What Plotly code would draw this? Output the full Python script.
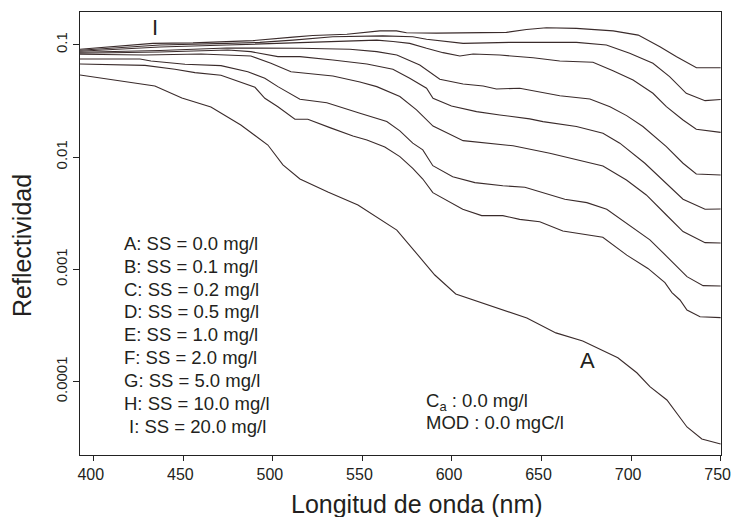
import plotly.graph_objects as go

# ---------------- data ----------------
WL_A = [392.3, 434.1, 449.2, 465.4, 482.1, 497.2, 505.6, 515.1, 530.7, 547.5, 569.2, 590.4, 602.1,
        641.8, 658.0, 673.0, 692.6, 703.2, 710.5, 720.0, 731.2, 739.5, 750.0]
R_A = [0.0538, 0.0430, 0.0336, 0.0279, 0.0193, 0.0128, 0.00851, 0.00638, 0.00489, 0.00374, 0.00224,
       0.000891, 0.000604, 0.000369, 0.000272, 0.000230, 0.000163, 0.000120, 0.0000902, 0.0000687,
       0.0000395, 0.0000309, 0.0000279]

WL_B = [392.3, 418.5, 428.6, 445.3, 456.5, 471.0, 486.0, 490.0, 495.5, 502.8, 512.3, 519.5, 532.2,
        544.7, 552.5, 562.5, 570.9, 578.1, 583.7, 589.3, 606.0, 616.6, 628.4, 637.8, 649.0, 661.9,
        684.2, 697.6, 709.4, 718.9, 722.8, 727.3, 731.2, 738.5, 750.0]
R_B = [0.0675, 0.0661, 0.0655, 0.0605, 0.0565, 0.0535, 0.0438, 0.0418, 0.0334, 0.0281, 0.0217, 0.0217,
       0.0182, 0.0154, 0.0142, 0.0123, 0.0101, 0.00795, 0.00638, 0.00482, 0.00343, 0.00301, 0.00301,
       0.00279, 0.00266, 0.00220, 0.00193, 0.00134, 0.00102, 0.000762, 0.000621, 0.000534, 0.000435,
       0.000379, 0.000372]

WL_C = [392.3, 425.8, 431.9, 450.9, 471.0, 486.0, 495.5, 502.8, 515.1, 530.1, 548.6, 563.6, 570.9,
        578.1, 583.7, 589.3, 600.4, 612.8, 628.4, 640.7, 663.0, 675.3, 686.4, 697.6, 710.5, 720.0,
        731.2, 740.2, 750.0]
R_C = [0.0748, 0.0748, 0.0718, 0.0670, 0.0652, 0.0576, 0.0503, 0.0424, 0.0327, 0.0305, 0.0246, 0.0207,
       0.0171, 0.0133, 0.0116, 0.00838, 0.00669, 0.00592, 0.00556, 0.00538, 0.00421, 0.00393, 0.00343,
       0.00257, 0.00183, 0.00130, 0.000861, 0.000716, 0.000711]

WL_D = [392.3, 428.6, 459.9, 487.7, 498.9, 510.1, 533.5, 548.6, 558.0, 570.9, 580.2, 589.4, 606.2,
        634.1, 654.6, 684.3, 697.4, 708.5, 719.7, 729.0, 741.3, 750.0]
R_D = [0.0823, 0.0811, 0.0828, 0.0795, 0.0684, 0.0576, 0.0527, 0.0466, 0.0424, 0.0346, 0.0263, 0.0189,
       0.0140, 0.0126, 0.0108, 0.00834, 0.00625, 0.00460, 0.00305, 0.00217, 0.00173, 0.00172]

WL_E = [392.3, 436.9, 474.9, 487.7, 502.8, 515.1, 533.5, 552.5, 567.0, 576.4, 585.8, 589.4, 599.7,
        613.7, 626.7, 643.4, 650.8, 669.5, 684.3, 693.7, 707.7, 719.7, 729.0, 741.3, 750.0]
R_E = [0.0840, 0.0863, 0.0899, 0.0869, 0.0784, 0.0784, 0.0732, 0.0675, 0.0605, 0.0503, 0.0410, 0.0334,
       0.0285, 0.0254, 0.0237, 0.0219, 0.0207, 0.0187, 0.0163, 0.0133, 0.00881, 0.00585, 0.00421,
       0.00343, 0.00345]

WL_F = [392.3, 436.9, 474.3, 515.1, 543.0, 558.0, 569.2, 582.0, 593.2, 606.2, 617.4, 624.8, 637.8,
        660.2, 677.0, 688.2, 697.5, 706.6, 719.7, 729.0, 736.4, 750.0]
R_F = [0.0857, 0.0890, 0.0937, 0.0931, 0.0912, 0.0869, 0.0811, 0.0661, 0.0493, 0.0448, 0.0430, 0.0404,
       0.0410, 0.0352, 0.0329, 0.0281, 0.0234, 0.0187, 0.0124, 0.00881, 0.00707, 0.00693]

WL_G = [392.3, 436.9, 474.3, 511.2, 537.4, 558.0, 567.1, 576.4, 585.8, 595.0, 604.4, 611.8, 626.7,
        645.3, 660.2, 678.7, 689.9, 701.1, 712.2, 719.7, 729.0, 736.4, 750.0]
R_G = [0.0875, 0.0955, 0.0995, 0.104, 0.108, 0.110, 0.107, 0.103, 0.0931, 0.0851, 0.0795, 0.0828,
       0.0811, 0.0767, 0.0718, 0.0699, 0.0588, 0.0486, 0.0370, 0.0281, 0.0214, 0.0177, 0.0166]

WL_H = [392.3, 436.9, 474.3, 492.7, 511.2, 533.5, 561.4, 578.1, 585.8, 606.2, 632.2, 669.5, 686.2,
        699.2, 712.2, 721.5, 730.8, 741.3, 750.0]
R_H = [0.0893, 0.0995, 0.103, 0.105, 0.110, 0.118, 0.120, 0.118, 0.112, 0.103, 0.105, 0.105, 0.0995,
       0.0840, 0.0684, 0.0520, 0.0370, 0.0318, 0.0326]

WL_I = [392.3, 433.0, 455.4, 489.0, 511.2, 522.3, 541.3, 554.1, 559.7, 569.0, 574.6, 591.3, 617.2,
        630.4, 641.6, 652.7, 669.5, 690.0, 704.0, 716.1, 725.4, 736.5, 750.0]
R_I = [0.0912, 0.103, 0.104, 0.109, 0.117, 0.121, 0.124, 0.129, 0.133, 0.133, 0.128, 0.127, 0.129,
       0.129, 0.137, 0.142, 0.140, 0.133, 0.122, 0.0962, 0.0784, 0.0625, 0.0625]

SERIES_NAMES = ["A", "B", "C", "D", "E", "F", "G", "H", "I"]
SS_VALUES = ["0.0", "0.1", "0.2", "0.5", "1.0", "2.0", "5.0", "10.0", "20.0"]

X_TICKS = [400, 450, 500, 550, 600, 650, 700, 750]
Y_TICKS = [0.0001, 0.001, 0.01, 0.1]
Y_TICK_TEXT = ["0.0001", "0.001", "0.01", "0.1"]

# ---------------- figure ----------------
FONT = "Arial, 'Liberation Sans', sans-serif"
LINE_COLOR = "#3a2b2b"
TEXT_COLOR = "#231f20"

wls = [WL_A, WL_B, WL_C, WL_D, WL_E, WL_F, WL_G, WL_H, WL_I]
rs = [R_A, R_B, R_C, R_D, R_E, R_F, R_G, R_H, R_I]

fig = go.Figure()
for name, wl, r in zip(SERIES_NAMES, wls, rs):
    fig.add_trace(go.Scatter(x=wl, y=r, mode="lines", name=name,
                             line=dict(color=LINE_COLOR, width=1.1),
                             showlegend=False, hoverinfo="x+y+name"))

annotations = []
# legend-like text block
y0 = 0.478
step = 0.0517
for i, (n, ss) in enumerate(zip(SERIES_NAMES, SS_VALUES)):
    xpos = 0.0651 if n != "I" else 0.0729
    annotations.append(dict(xref="paper", yref="paper", x=xpos, y=y0 - i * step,
                            xanchor="left", yanchor="middle", showarrow=False,
                            text=f"{n}: SS = {ss} mg/l",
                            font=dict(family=FONT, size=18.5, color=TEXT_COLOR)))

annotations += [
    dict(xref="paper", yref="paper", x=0.5367, y=0.1203, xanchor="left", yanchor="middle",
         showarrow=False, text="C<sub>a</sub> : 0.0 mg/l",
         font=dict(family=FONT, size=18.5, color=TEXT_COLOR)),
    dict(xref="paper", yref="paper", x=0.5367, y=0.0738, xanchor="left", yanchor="middle",
         showarrow=False, text="MOD : 0.0 mgC/l",
         font=dict(family=FONT, size=18.5, color=TEXT_COLOR)),
    dict(xref="paper", yref="paper", x=0.1165, y=0.9639, xanchor="center", yanchor="middle",
         showarrow=False, text="I", font=dict(family=FONT, size=22, color=TEXT_COLOR)),
    dict(xref="paper", yref="paper", x=0.7914, y=0.2144, xanchor="center", yanchor="middle",
         showarrow=False, text="A", font=dict(family=FONT, size=22, color=TEXT_COLOR)),
    dict(xref="paper", yref="paper", x=0.5265, y=-0.110, xanchor="center", yanchor="middle",
         showarrow=False, text="Longitud de onda (nm)",
         font=dict(family=FONT, size=25, color=TEXT_COLOR)),
    dict(xref="paper", yref="paper", x=-0.0905, y=0.474, xanchor="center", yanchor="middle",
         showarrow=False, text="Reflectividad", textangle=-90,
         font=dict(family=FONT, size=25, color=TEXT_COLOR)),
]

fig.update_layout(
    width=732, height=517,
    margin=dict(l=80, r=11, t=12, b=62, autoexpand=False),
    paper_bgcolor="white", plot_bgcolor="white",
    font=dict(family=FONT, color=TEXT_COLOR),
    annotations=annotations,
    showlegend=False,
)

fig.update_xaxes(
    range=[392.3, 750.2], tickvals=X_TICKS, ticks="outside", ticklen=5, tickwidth=1,
    tickcolor="#222", showline=True, linecolor="#222", linewidth=1, mirror=True,
    showgrid=False, zeroline=False, ticklabeloverflow="allow", automargin=False,
    ticklabelshift=-3,
    tickfont=dict(family=FONT, size=16, color=TEXT_COLOR),
)
fig.update_yaxes(
    type="log", range=[-4.653, -0.708], tickvals=Y_TICKS, ticktext=Y_TICK_TEXT,
    tickangle=-90, ticks="outside", ticklen=6, tickwidth=1, tickcolor="#222",
    showline=True, linecolor="#222", linewidth=1, mirror=True, automargin=False,
    showgrid=False, zeroline=False, tickfont=dict(family=FONT, size=15, color=TEXT_COLOR),
)

fig.write_html(
    "out.html",
    config={"displayModeBar": False},
    post_script="document.body.style.margin='0';document.body.style.padding='0';"
                "document.body.style.overflow='hidden';",
)
